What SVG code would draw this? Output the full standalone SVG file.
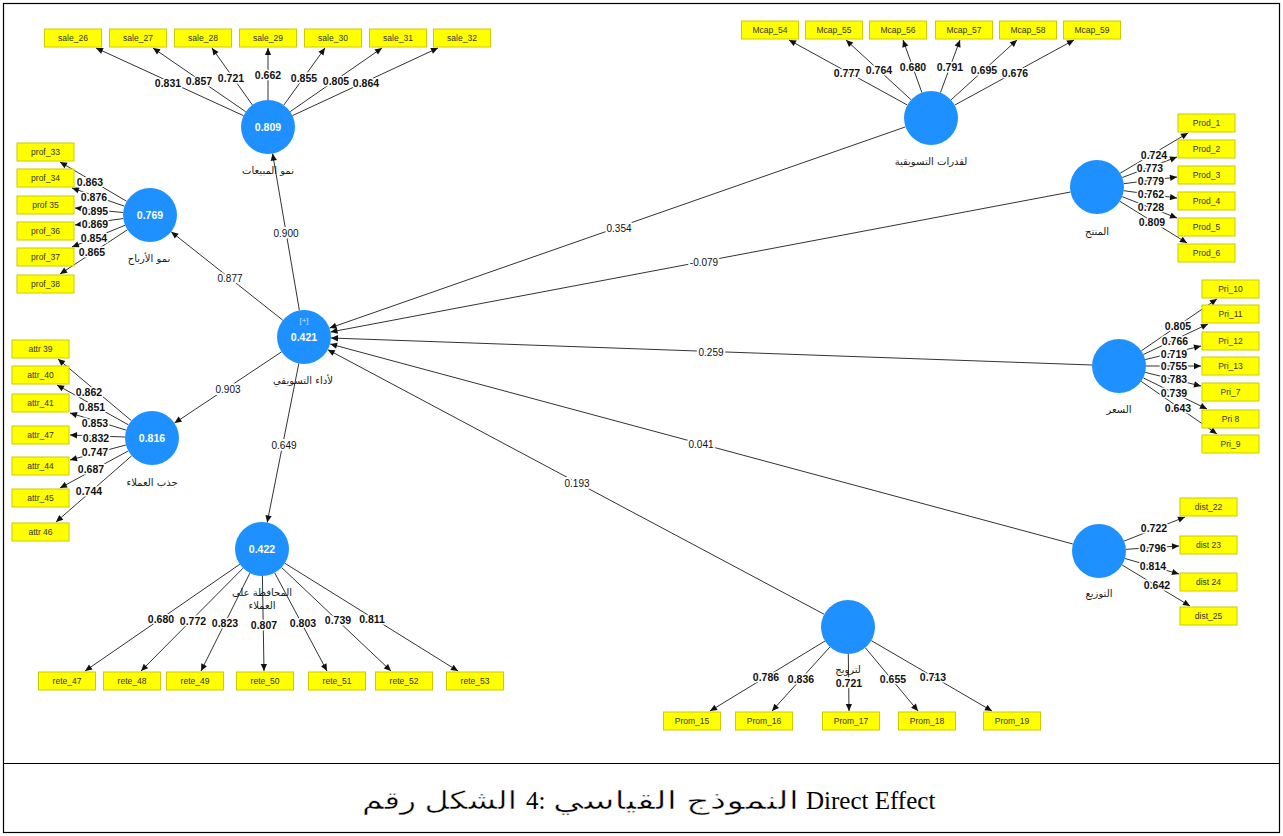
<svg xmlns="http://www.w3.org/2000/svg" width="1283" height="836" viewBox="0 0 1283 836">
<defs>
<marker id="ah" viewBox="0 0 10 10" refX="10" refY="5" markerWidth="8" markerHeight="7" markerUnits="userSpaceOnUse" orient="auto"><path d="M0,0.5 L10,5 L0,9.5 z" fill="#111"/></marker>
<style>
.ln{stroke:#333;stroke-width:1;fill:none;marker-end:url(#ah)}
.box{fill:#ffff00;stroke:#cccc00;stroke-width:1}
.bt{font-family:"Liberation Sans",Arial,sans-serif;font-size:8.5px;fill:#333;text-anchor:middle}
.ld{font-family:"Liberation Sans",Arial,sans-serif;font-size:10.5px;font-weight:bold;fill:#111;text-anchor:middle;paint-order:stroke;stroke:#fff;stroke-width:3px;stroke-linejoin:round}
.pc{font-family:"Liberation Sans",Arial,sans-serif;font-size:10px;fill:#111;text-anchor:middle;paint-order:stroke;stroke:#fff;stroke-width:4px;stroke-linejoin:round}
.lv{fill:#1e90ff}
.cv{font-family:"Liberation Sans",Arial,sans-serif;font-size:10.5px;font-weight:bold;fill:#fff;text-anchor:middle}
.nl{font-family:"DejaVu Sans","Noto Sans",sans-serif;font-size:10px;fill:#1a1a1a;text-anchor:middle}
.cap{font-family:"Liberation Serif","Times New Roman","DejaVu Sans",serif;font-size:25px;fill:#000}
.capar{stroke:#fff;stroke-width:0.45px}
</style>
</defs>
<rect x="0" y="0" width="1283" height="836" fill="#fff"/>
<rect x="3.5" y="3.5" width="1276" height="829" fill="none" stroke="#000" stroke-width="1.2"/>
<line x1="3.5" y1="763.5" x2="1279.5" y2="763.5" stroke="#000" stroke-width="1.2"/>

<g id="connectors">
<path class="ln" d="M243.5,115.7 L96,48"/>
<path class="ln" d="M245.7,111.7 L153,48"/>
<path class="ln" d="M252.4,105 L212,48"/>
<path class="ln" d="M268,100 L268,48"/>
<path class="ln" d="M283.8,105.1 L325,48"/>
<path class="ln" d="M290.2,111.6 L382,48"/>
<path class="ln" d="M292.5,115.6 L438,48"/>

<path class="ln" d="M126.7,201.3 L60,162"/>
<path class="ln" d="M124.5,206.2 L72,188"/>
<path class="ln" d="M123.1,212.5 L75,208"/>
<path class="ln" d="M123.2,218.6 L75,225"/>
<path class="ln" d="M125,225.3 L72,247"/>
<path class="ln" d="M127.4,229.8 L60,274"/>

<path class="ln" d="M131.3,420.6 L58,359"/>
<path class="ln" d="M128.4,424.8 L57,385"/>
<path class="ln" d="M126.2,430.1 L70,413"/>
<path class="ln" d="M125,437 L70,435"/>
<path class="ln" d="M125.9,445 L70,460"/>
<path class="ln" d="M128.3,450.9 L60,488"/>
<path class="ln" d="M131.7,455.8 L56,522"/>

<path class="ln" d="M239.8,564.3 L85,671"/>
<path class="ln" d="M243,568.2 L141,671"/>
<path class="ln" d="M249.9,573.1 L201,671"/>
<path class="ln" d="M262.4,576 L264,671"/>
<path class="ln" d="M274.7,572.8 L327,671"/>
<path class="ln" d="M281.6,567.5 L391,671"/>
<path class="ln" d="M284.9,563.3 L458,671"/>

<path class="ln" d="M907.3,105 L789,40"/>
<path class="ln" d="M911.1,99.8 L846,40"/>
<path class="ln" d="M921.9,92.6 L903,40"/>
<path class="ln" d="M940.4,92.7 L960,40"/>
<path class="ln" d="M951,99.9 L1017,40"/>
<path class="ln" d="M954.7,105.1 L1074,40"/>

<path class="ln" d="M1120.2,173.2 L1188,133"/>
<path class="ln" d="M1122.3,177.5 L1177,157"/>
<path class="ln" d="M1123.8,183.7 L1177,177"/>
<path class="ln" d="M1123.8,190.7 L1177,198"/>
<path class="ln" d="M1122.2,196.7 L1177,218"/>
<path class="ln" d="M1119.9,201.3 L1187,243"/>

<path class="ln" d="M1141.3,350.8 L1217,299"/>
<path class="ln" d="M1143.4,354.5 L1208,324"/>
<path class="ln" d="M1145.2,359.6 L1201,346"/>
<path class="ln" d="M1146,366 L1201,366"/>
<path class="ln" d="M1145.2,372.4 L1201,386"/>
<path class="ln" d="M1143.3,377.9 L1207,409"/>
<path class="ln" d="M1141.2,381.4 L1217,434"/>

<path class="ln" d="M1124.1,541.1 L1185,517"/>
<path class="ln" d="M1126,549.3 L1179,546"/>
<path class="ln" d="M1124.9,558.5 L1179,574"/>
<path class="ln" d="M1122.1,565 L1190,606"/>

<path class="ln" d="M825,641 L710,711"/>
<path class="ln" d="M829.9,647 L772,711"/>
<path class="ln" d="M848.3,654 L849,711"/>
<path class="ln" d="M865.3,647.7 L918,711"/>
<path class="ln" d="M871.3,640.6 L992,711"/>

<path class="ln" d="M299.4,310.4 L272.6,153.6"/>
<path class="ln" d="M282.8,320.2 L171.2,231.8"/>
<path class="ln" d="M281.5,351.9 L174.5,423.1"/>
<path class="ln" d="M298.8,363.5 L267.2,522.5"/>
<path class="ln" d="M905.5,126.9 L329.5,328.1"/>
<path class="ln" d="M1070.5,192 L330.5,332"/>
<path class="ln" d="M1092,365 L331,338"/>
<path class="ln" d="M1072.9,544 L330.1,344"/>
<path class="ln" d="M824.2,614.3 L327.8,349.7"/>
</g>

<g id="edge-labels">
<text class="ld" x="168" y="86.5">0.831</text>
<text class="ld" x="199" y="84.5">0.857</text>
<text class="ld" x="231" y="81.5">0.721</text>
<text class="ld" x="268" y="78.5">0.662</text>
<text class="ld" x="304" y="81.5">0.855</text>
<text class="ld" x="336" y="84.5">0.805</text>
<text class="ld" x="366" y="86.5">0.864</text>

<text class="ld" x="90" y="185.5">0.863</text>
<text class="ld" x="94" y="200.5">0.876</text>
<text class="ld" x="95" y="214.5">0.895</text>
<text class="ld" x="95" y="227.5">0.869</text>
<text class="ld" x="94" y="241.5">0.854</text>
<text class="ld" x="92" y="255.5">0.865</text>

<text class="ld" x="89" y="395.5">0.862</text>
<text class="ld" x="92" y="410.5">0.851</text>
<text class="ld" x="95" y="426.5">0.853</text>
<text class="ld" x="96" y="441.5">0.832</text>
<text class="ld" x="95" y="455.5">0.747</text>
<text class="ld" x="91" y="472.5">0.687</text>
<text class="ld" x="89" y="494.5">0.744</text>

<text class="ld" x="161" y="622.5">0.680</text>
<text class="ld" x="193" y="624.5">0.772</text>
<text class="ld" x="225" y="626.5">0.823</text>
<text class="ld" x="264" y="628.5">0.807</text>
<text class="ld" x="303" y="626.5">0.803</text>
<text class="ld" x="338" y="623.5">0.739</text>
<text class="ld" x="372" y="622.5">0.811</text>

<text class="ld" x="847" y="76.5">0.777</text>
<text class="ld" x="879" y="73.5">0.764</text>
<text class="ld" x="913" y="70.5">0.680</text>
<text class="ld" x="950" y="70.5">0.791</text>
<text class="ld" x="984" y="73.5">0.695</text>
<text class="ld" x="1015" y="76.5">0.676</text>

<text class="ld" x="1154" y="158.5">0.724</text>
<text class="ld" x="1150" y="171.5">0.773</text>
<text class="ld" x="1151" y="184.5">0.779</text>
<text class="ld" x="1151" y="197.5">0.762</text>
<text class="ld" x="1151" y="210.5">0.728</text>
<text class="ld" x="1152" y="225.5">0.809</text>

<text class="ld" x="1178" y="329.5">0.805</text>
<text class="ld" x="1175" y="344.5">0.766</text>
<text class="ld" x="1174" y="357.5">0.719</text>
<text class="ld" x="1174" y="369.5">0.755</text>
<text class="ld" x="1174" y="382.5">0.783</text>
<text class="ld" x="1174" y="396.5">0.739</text>
<text class="ld" x="1178" y="411.5">0.643</text>

<text class="ld" x="1154" y="531.5">0.722</text>
<text class="ld" x="1153" y="551.5">0.796</text>
<text class="ld" x="1153" y="569.5">0.814</text>
<text class="ld" x="1157" y="588.5">0.642</text>

<text class="ld" x="766" y="680.5">0.786</text>
<text class="ld" x="801" y="682.5">0.836</text>
<text class="ld" x="849" y="686.5">0.721</text>
<text class="ld" x="893" y="682.5">0.655</text>
<text class="ld" x="933" y="680.5">0.713</text>

<text class="pc" x="286" y="236.5">0.900</text>
<text class="pc" x="230" y="281.5">0.877</text>
<text class="pc" x="228" y="392.5">0.903</text>
<text class="pc" x="284" y="448.5">0.649</text>
<text class="pc" x="619" y="231.5">0.354</text>
<text class="pc" x="704" y="265.5">-0.079</text>
<text class="pc" x="711" y="355.5">0.259</text>
<text class="pc" x="701" y="447.5">0.041</text>
<text class="pc" x="577" y="486.5">0.193</text>
</g>

<g id="sales-growth"><circle class="lv" cx="268" cy="127" r="27"/><text class="cv" x="268" y="131">0.809</text><text class="nl" x="268" y="174">نمو المبيعات</text></g>
<g id="profit-growth"><circle class="lv" cx="150" cy="215" r="27"/><text class="cv" x="150" y="219">0.769</text><text class="nl" x="149" y="262">نمو الأرباح</text></g>
<g id="marketing-performance"><circle class="lv" cx="304" cy="337" r="27"/><text x="304" y="323" font-family="Liberation Sans,sans-serif" font-size="8px" fill="#cfe6ff" text-anchor="middle">[+]</text><text class="cv" x="304" y="341">0.421</text><text class="nl" x="303" y="384">لأداء التسويقي</text></g>
<g id="customer-attraction"><circle class="lv" cx="152" cy="438" r="27"/><text class="cv" x="152" y="442">0.816</text><text class="nl" x="152" y="486">جذب العملاء</text></g>
<g id="customer-retention"><circle class="lv" cx="262" cy="549" r="27"/><text class="cv" x="262" y="553">0.422</text><text class="nl" x="262" y="596">المحافظة على</text><text class="nl" x="262" y="609">العملاء</text></g>
<g id="marketing-capabilities"><circle class="lv" cx="931" cy="118" r="27"/><text class="nl" x="931" y="165">لقدرات التسويقية</text></g>
<g id="product"><circle class="lv" cx="1097" cy="187" r="27"/><text class="nl" x="1097" y="235">المنتج</text></g>
<g id="price"><circle class="lv" cx="1119" cy="366" r="27"/><text class="nl" x="1119" y="413">السعر</text></g>
<g id="distribution"><circle class="lv" cx="1099" cy="551" r="27"/><text class="nl" x="1099" y="597">التوزيع</text></g>
<g id="promotion"><circle class="lv" cx="848" cy="627" r="27"/><text class="nl" x="848" y="673">لترويج</text></g>

<g id="sale_26"><rect class="box" x="44.5" y="29" width="57" height="18"/><text class="bt" x="73" y="41">sale_26</text></g>
<g id="sale_27"><rect class="box" x="109.5" y="29" width="57" height="18"/><text class="bt" x="138" y="41">sale_27</text></g>
<g id="sale_28"><rect class="box" x="174.5" y="29" width="57" height="18"/><text class="bt" x="203" y="41">sale_28</text></g>
<g id="sale_29"><rect class="box" x="239.5" y="29" width="57" height="18"/><text class="bt" x="268" y="41">sale_29</text></g>
<g id="sale_30"><rect class="box" x="304.5" y="29" width="57" height="18"/><text class="bt" x="333" y="41">sale_30</text></g>
<g id="sale_31"><rect class="box" x="369.5" y="29" width="57" height="18"/><text class="bt" x="398" y="41">sale_31</text></g>
<g id="sale_32"><rect class="box" x="433.5" y="29" width="57" height="18"/><text class="bt" x="462" y="41">sale_32</text></g>

<g id="prof_33"><rect class="box" x="17" y="143" width="57" height="18"/><text class="bt" x="45.5" y="155">prof_33</text></g>
<g id="prof_34"><rect class="box" x="17" y="169" width="57" height="18"/><text class="bt" x="45.5" y="181">prof_34</text></g>
<g id="prof_35"><rect class="box" x="17" y="196" width="57" height="18"/><text class="bt" x="45.5" y="208">prof 35</text></g>
<g id="prof_36"><rect class="box" x="17" y="222" width="57" height="18"/><text class="bt" x="45.5" y="234">prof_36</text></g>
<g id="prof_37"><rect class="box" x="17" y="248" width="57" height="18"/><text class="bt" x="45.5" y="260">prof_37</text></g>
<g id="prof_38"><rect class="box" x="17" y="275" width="57" height="18"/><text class="bt" x="45.5" y="287">prof_38</text></g>

<g id="attr_39"><rect class="box" x="12" y="340" width="57" height="18"/><text class="bt" x="40.5" y="352">attr 39</text></g>
<g id="attr_40"><rect class="box" x="12" y="366" width="57" height="18"/><text class="bt" x="40.5" y="378">attr_40</text></g>
<g id="attr_41"><rect class="box" x="12" y="394" width="57" height="18"/><text class="bt" x="40.5" y="406">attr_41</text></g>
<g id="attr_47"><rect class="box" x="12" y="426" width="57" height="18"/><text class="bt" x="40.5" y="438">attr_47</text></g>
<g id="attr_44"><rect class="box" x="12" y="457" width="57" height="18"/><text class="bt" x="40.5" y="469">attr_44</text></g>
<g id="attr_45"><rect class="box" x="12" y="489" width="57" height="18"/><text class="bt" x="40.5" y="501">attr_45</text></g>
<g id="attr_46"><rect class="box" x="12" y="523" width="57" height="18"/><text class="bt" x="40.5" y="535">attr 46</text></g>

<g id="rete_47"><rect class="box" x="38.5" y="672" width="57" height="18"/><text class="bt" x="67" y="684">rete_47</text></g>
<g id="rete_48"><rect class="box" x="103.5" y="672" width="57" height="18"/><text class="bt" x="132" y="684">rete_48</text></g>
<g id="rete_49"><rect class="box" x="166.5" y="672" width="57" height="18"/><text class="bt" x="195" y="684">rete_49</text></g>
<g id="rete_50"><rect class="box" x="236.5" y="672" width="57" height="18"/><text class="bt" x="265" y="684">rete_50</text></g>
<g id="rete_51"><rect class="box" x="308.5" y="672" width="57" height="18"/><text class="bt" x="337" y="684">rete_51</text></g>
<g id="rete_52"><rect class="box" x="375.5" y="672" width="57" height="18"/><text class="bt" x="404" y="684">rete_52</text></g>
<g id="rete_53"><rect class="box" x="446.5" y="672" width="57" height="18"/><text class="bt" x="475" y="684">rete_53</text></g>

<g id="Mcap_54"><rect class="box" x="741.5" y="21" width="57" height="18"/><text class="bt" x="770" y="33">Mcap_54</text></g>
<g id="Mcap_55"><rect class="box" x="805.5" y="21" width="57" height="18"/><text class="bt" x="834" y="33">Mcap_55</text></g>
<g id="Mcap_56"><rect class="box" x="869.5" y="21" width="57" height="18"/><text class="bt" x="898" y="33">Mcap_56</text></g>
<g id="Mcap_57"><rect class="box" x="935.5" y="21" width="57" height="18"/><text class="bt" x="964" y="33">Mcap_57</text></g>
<g id="Mcap_58"><rect class="box" x="999.5" y="21" width="57" height="18"/><text class="bt" x="1028" y="33">Mcap_58</text></g>
<g id="Mcap_59"><rect class="box" x="1063.5" y="21" width="57" height="18"/><text class="bt" x="1092" y="33">Mcap_59</text></g>

<g id="Prod_1"><rect class="box" x="1178" y="114" width="57" height="18"/><text class="bt" x="1206.5" y="126">Prod_1</text></g>
<g id="Prod_2"><rect class="box" x="1178" y="140" width="57" height="18"/><text class="bt" x="1206.5" y="152">Prod_2</text></g>
<g id="Prod_3"><rect class="box" x="1178" y="166" width="57" height="18"/><text class="bt" x="1206.5" y="178">Prod_3</text></g>
<g id="Prod_4"><rect class="box" x="1178" y="192" width="57" height="18"/><text class="bt" x="1206.5" y="204">Prod_4</text></g>
<g id="Prod_5"><rect class="box" x="1178" y="218" width="57" height="18"/><text class="bt" x="1206.5" y="230">Prod_5</text></g>
<g id="Prod_6"><rect class="box" x="1178" y="244" width="57" height="18"/><text class="bt" x="1206.5" y="256">Prod_6</text></g>

<g id="Pri_10"><rect class="box" x="1202" y="280" width="57" height="18"/><text class="bt" x="1230.5" y="292">Pri_10</text></g>
<g id="Pri_11"><rect class="box" x="1202" y="305" width="57" height="18"/><text class="bt" x="1230.5" y="317">Pri_11</text></g>
<g id="Pri_12"><rect class="box" x="1202" y="332" width="57" height="18"/><text class="bt" x="1230.5" y="344">Pri_12</text></g>
<g id="Pri_13"><rect class="box" x="1202" y="357" width="57" height="18"/><text class="bt" x="1230.5" y="369">Pri_13</text></g>
<g id="Pri_7"><rect class="box" x="1202" y="383" width="57" height="18"/><text class="bt" x="1230.5" y="395">Pri_7</text></g>
<g id="Pri_8"><rect class="box" x="1202" y="410" width="57" height="18"/><text class="bt" x="1230.5" y="422">Pri 8</text></g>
<g id="Pri_9"><rect class="box" x="1202" y="435" width="57" height="18"/><text class="bt" x="1230.5" y="447">Pri_9</text></g>

<g id="dist_22"><rect class="box" x="1180" y="498" width="57" height="18"/><text class="bt" x="1208.5" y="510">dist_22</text></g>
<g id="dist_23"><rect class="box" x="1180" y="536" width="57" height="18"/><text class="bt" x="1208.5" y="548">dist 23</text></g>
<g id="dist_24"><rect class="box" x="1180" y="573" width="57" height="18"/><text class="bt" x="1208.5" y="585">dist 24</text></g>
<g id="dist_25"><rect class="box" x="1180" y="607" width="57" height="18"/><text class="bt" x="1208.5" y="619">dist_25</text></g>

<g id="Prom_15"><rect class="box" x="663.5" y="712" width="57" height="18"/><text class="bt" x="692" y="724">Prom_15</text></g>
<g id="Prom_16"><rect class="box" x="735.5" y="712" width="57" height="18"/><text class="bt" x="764" y="724">Prom_16</text></g>
<g id="Prom_17"><rect class="box" x="822.5" y="712" width="57" height="18"/><text class="bt" x="851" y="724">Prom_17</text></g>
<g id="Prom_18"><rect class="box" x="898.5" y="712" width="57" height="18"/><text class="bt" x="927" y="724">Prom_18</text></g>
<g id="Prom_19"><rect class="box" x="983.5" y="712" width="57" height="18"/><text class="bt" x="1012" y="724">Prom_19</text></g>

<g id="caption">
<text class="cap capar" x="362" y="809" direction="ltr" textLength="155" lengthAdjust="spacingAndGlyphs">الشكل رقم</text>
<text class="cap" x="526" y="809" direction="ltr">4:</text>
<text class="cap capar" x="553" y="809" direction="ltr" textLength="246" lengthAdjust="spacingAndGlyphs">النموذج القياسي</text>
<text class="cap" x="806" y="809" direction="ltr">Direct Effect</text>
</g>
</svg>
